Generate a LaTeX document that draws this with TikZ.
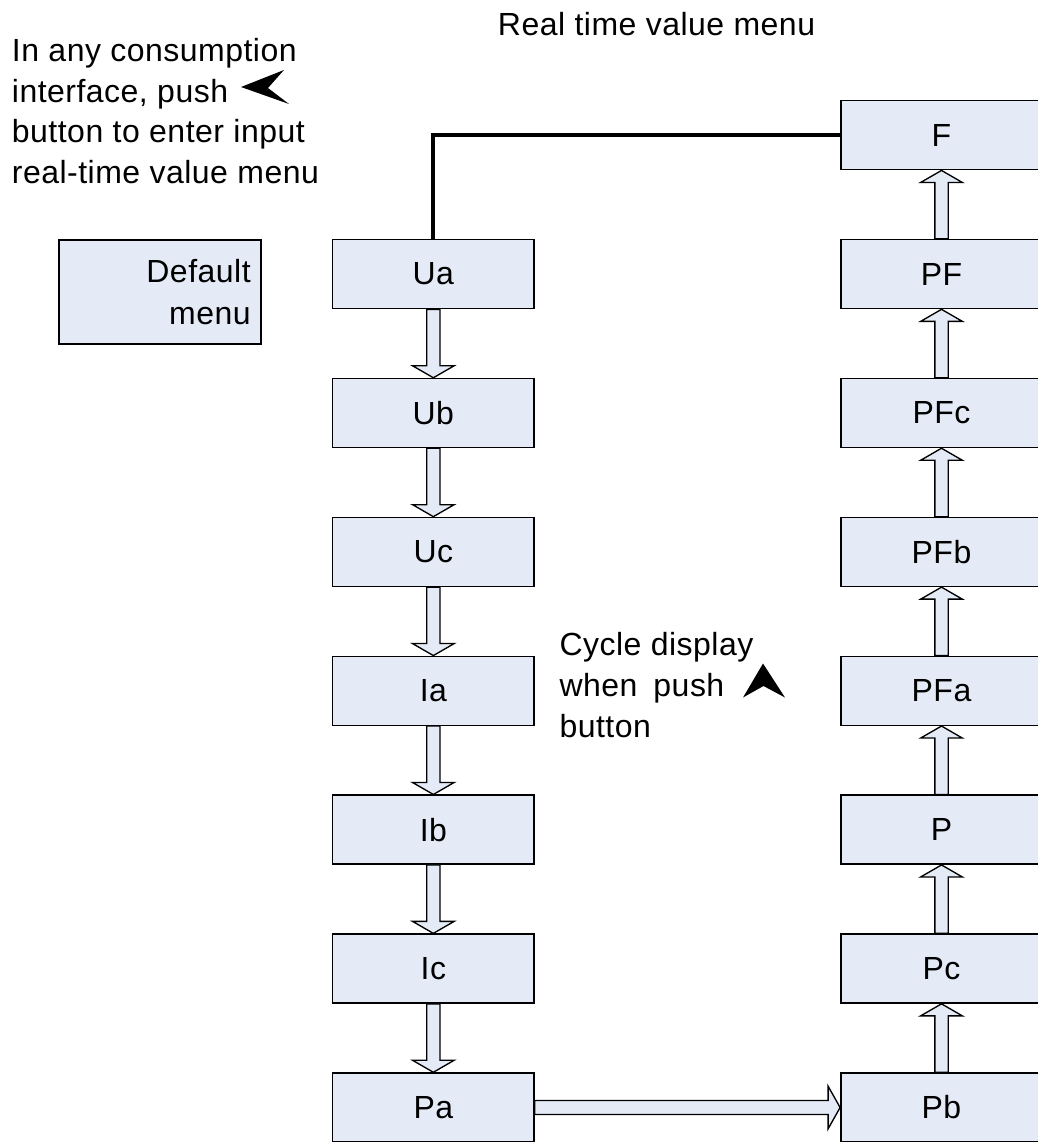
\documentclass[tikz,border=0pt]{standalone}
\usepackage{fontspec}
\setmainfont{Liberation Sans}[LetterSpace=1.5]
\usetikzlibrary{calc}
\definecolor{boxfill}{RGB}{228,235,247}
\newcommand\mainfnt{\fontsize{24}{30.4}\selectfont}
\tikzset{
  x=0.75pt, y=-0.75pt,
  menubox/.style={draw=black, line width=1.1pt, fill=boxfill,
    minimum width=151pt, minimum height=51.75pt, inner sep=0pt, font=\mainfnt},
  blk/.style={draw=black, line width=1pt, fill=boxfill, line join=miter},
  note/.style={inner sep=0pt, align=left, font=\mainfnt},
}
\newcommand\arrdown[2]{%
  \path[blk] let \p1=(#1.south), \p2=(#2.north) in
    (\x1-5pt,\y1) -- (\x1-5pt,\y2+9pt) -- (\x1-15.6pt,\y2+9pt) -- (\x1,\y2)
    -- (\x1+15.6pt,\y2+9pt) -- (\x1+5pt,\y2+9pt) -- (\x1+5pt,\y1) -- cycle;}
\newcommand\arrup[2]{%
  \path[blk] let \p1=(#1.north), \p2=(#2.south) in
    (\x1-5pt,\y1) -- (\x1-5pt,\y2-9pt) -- (\x1-15.6pt,\y2-9pt) -- (\x1,\y2)
    -- (\x1+15.6pt,\y2-9pt) -- (\x1+5pt,\y2-9pt) -- (\x1+5pt,\y1) -- cycle;}
\newcommand\arrright[2]{%
  \path[blk] let \p1=(#1.east), \p2=(#2.west) in
    (\x1,\y1-5.3pt) -- (\x2-9pt,\y1-5.3pt) -- (\x2-9pt,\y1-16pt) -- (\x2,\y1)
    -- (\x2-9pt,\y1+16pt) -- (\x2-9pt,\y1+5.3pt) -- (\x1,\y1+5.3pt) -- cycle;}
\begin{document}
\begin{tikzpicture}
\useasboundingbox (0,0) rectangle (1038,1142);

% texts
\node[note, anchor=base west] (title) at (497.7,35) {Real time value menu};
\node[note, anchor=north west] (intro) at (11.7,38.4)
  {In any consumption\\interface, push\\button to enter input\\real-time value menu};
\node[note, anchor=north west] (cycle) at (559.3,632.5)
  {Cycle display\\when\hspace{12pt}push\\button};

% button glyphs
\fill (241,87) -- (284,70) -- (268,88) -- (289,104) -- cycle;
\fill (763,663.5) -- (785,697.5) -- (763.5,686) -- (743,697.5) -- cycle;

% default menu
\node[menubox, minimum width=151.5pt, minimum height=78pt, text width=136pt,
  align=right, font=\fontsize{24}{31.5}\selectfont] (def) at (160,292) {Default\\menu};

% left column
\node[menubox] (Ua) at (433.35,274.1) {Ua};
\node[menubox] (Ub) at (433.35,413.0) {Ub};
\node[menubox] (Uc) at (433.35,551.9) {Uc};
\node[menubox] (Ia) at (433.35,690.8) {Ia};
\node[menubox] (Ib) at (433.35,829.7) {Ib};
\node[menubox] (Ic) at (433.35,968.6) {Ic};
\node[menubox] (Pa) at (433.35,1107.5) {Pa};

% right column
\node[menubox] (F)   at (941.5,135.2) {F};
\node[menubox] (PF)  at (941.5,274.1) {PF};
\node[menubox] (PFc) at (941.5,413.0) {PFc};
\node[menubox] (PFb) at (941.5,551.9) {PFb};
\node[menubox] (PFa) at (941.5,690.8) {PFa};
\node[menubox] (P)   at (941.5,829.7) {P};
\node[menubox] (Pc)  at (941.5,968.6) {Pc};
\node[menubox] (Pb)  at (941.5,1107.5) {Pb};

% connectors
\draw[line width=3pt] (Ua.north) |- (F.west);
\arrdown{Ua}{Ub}
\arrdown{Ub}{Uc}
\arrdown{Uc}{Ia}
\arrdown{Ia}{Ib}
\arrdown{Ib}{Ic}
\arrdown{Ic}{Pa}
\arrright{Pa}{Pb}
\arrup{Pb}{Pc}
\arrup{Pc}{P}
\arrup{P}{PFa}
\arrup{PFa}{PFb}
\arrup{PFb}{PFc}
\arrup{PFc}{PF}
\arrup{PF}{F}
\end{tikzpicture}
\end{document}
